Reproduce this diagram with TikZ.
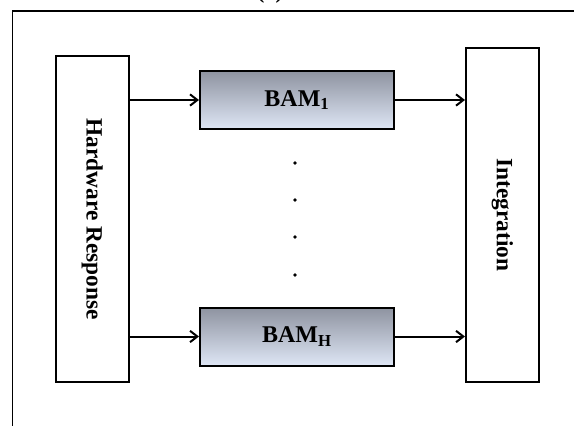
\documentclass[tikz,border=0pt]{standalone}
\usepackage{fontspec}
\setmainfont{Liberation Serif}
\usetikzlibrary{arrows.meta}

\definecolor{bamtop}{RGB}{142,147,160}
\definecolor{bammid}{RGB}{192,205,230}
\definecolor{bambot}{RGB}{222,230,245}

\tikzset{every picture/.style={line width=1.5pt}}

\begin{document}
\begin{tikzpicture}[x=0.75pt,y=0.75pt,yscale=-1,xscale=1,
	blockbox/.style={draw, rectangle, inner sep=0pt, font=\fontsize{17}{20}\selectfont\bfseries},
	bambox/.style={blockbox, top color=bamtop, middle color=bammid, bottom color=bambot,
		minimum width=145.5pt, minimum height=43.5pt, font=\fontsize{18}{21}\selectfont\bfseries},
	link/.style={-{Straight Barb[length=5.5pt,width=8.5pt,line width=1.5pt]}}]
	\useasboundingbox (0,0) rectangle (574,425);

	%Shape: Frame
	\draw [line width=1.2pt] (12.5,11) rectangle (600,450);

	% Text Node
	\node (title) at (270,-1.5) [anchor=base, font=\fontsize{17}{20}\selectfont\bfseries] {(a)};

	%Shape: Rectangle
	\node (hw) at (92.3,219) [blockbox, minimum width=54.5pt, minimum height=244.5pt] {};
	\node [rotate=-90, font=\fontsize{17.5}{20}\selectfont\bfseries] at (hw.center) {Hardware Response};
	%Shape: Rectangle
	\node (integ) at (502.5,215) [blockbox, minimum width=54.75pt, minimum height=250.5pt] {};
	\node [rotate=-90, font=\fontsize{17.5}{20}\selectfont\bfseries] at (integ.center) {Integration};

	%Shape: Rectangle
	\node (bam1) at (297,100) [bambox] {BAM\textsubscript{1}};
	%Shape: Rectangle
	\node (bamH) at (297,336.5) [bambox] {BAM\textsubscript{H}};

	%Straight Lines
	\draw [link] (hw.east |- bam1.west) -- (bam1.west);
	\draw [link] (hw.east |- bamH.west) -- (bamH.west);
	\draw [link] (bam1.east) -- (integ.west |- bam1.east);
	\draw [link] (bamH.east) -- (integ.west |- bamH.east);

	%Shape: Dots
	\fill (295,163) circle (1.8);
	\fill (295,200) circle (1.8);
	\fill (295,237) circle (1.8);
	\fill (295,275) circle (1.8);
\end{tikzpicture}
\end{document}
